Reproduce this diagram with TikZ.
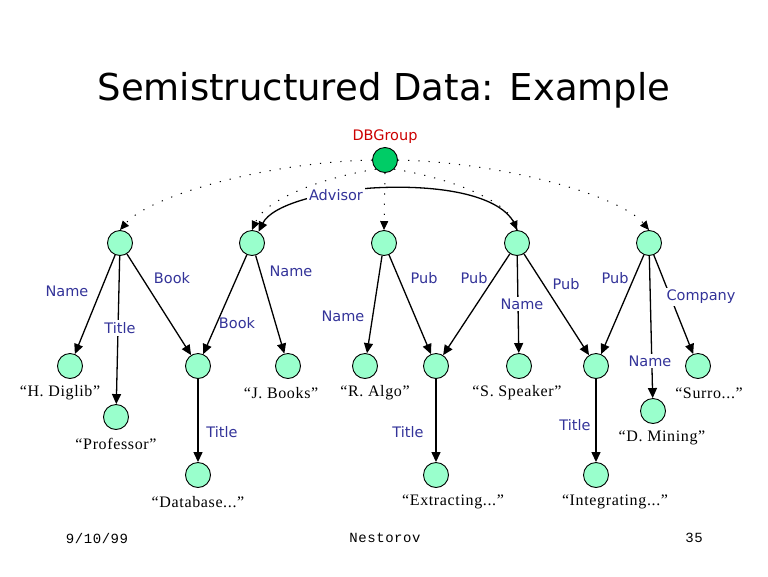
\documentclass[tikz,border=0pt]{standalone}
\usepackage{fontspec}
\usetikzlibrary{arrows.meta}
\newfontfamily\labfont{DejaVu Sans}
\newfontfamily\serfont[LetterSpace=4]{Liberation Serif}
\newfontfamily\monofont[LetterSpace=4]{Liberation Mono}
\definecolor{leafgreen}{RGB}{153,255,204}
\definecolor{rootgreen}{RGB}{0,204,102}
\definecolor{labblue}{RGB}{51,51,153}
\definecolor{dbred}{RGB}{204,0,0}
\tikzset{
  obj/.style={circle,draw=black,line width=0.9pt,fill=leafgreen,minimum size=25pt,inner sep=0pt},
  rootobj/.style={obj,fill=rootgreen},
  arr/.style={line width=1.3pt,-{Triangle[length=10pt,width=9pt]}},
  dotarr/.style={line width=1pt,dash pattern=on 1.2pt off 9pt,-{Triangle[length=9pt,width=8pt]}},
  lab/.style={font=\labfont\fontsize{14.5}{16}\selectfont,text=labblue,inner sep=1pt},
  wlab/.style={lab,fill=white,inner sep=2pt},
  val/.style={font=\serfont\fontsize{16}{18}\selectfont,inner sep=1pt},
  foot/.style={font=\monofont\fontsize{14}{16}\selectfont,inner sep=1pt}
}
\begin{document}
\begin{tikzpicture}[x=1pt,y=-1pt]
\useasboundingbox[fill=white] (0,0) rectangle (768,576);
\node[font=\labfont\fontsize{37}{40}\selectfont] (title) at (384,90) {Semistructured Data: Example};
% nodes
\node[rootobj] (root) at (385,160) {};
\node[lab,text=dbred] (dbg) at (385,137) {DBGroup};
\node[obj] (A) at (120,243) {};
\node[obj] (B) at (252,243) {};
\node[obj] (C) at (384,243) {};
\node[obj] (D) at (517,243) {};
\node[obj] (E) at (649,243) {};
\node[obj] (a1) at (70,366) {};
\node[obj] (b1) at (198,366) {};
\node[obj] (c1) at (288,366) {};
\node[obj] (d1) at (365,366) {};
\node[obj] (e1) at (436,366) {};
\node[obj] (f1) at (519,366) {};
\node[obj] (g1) at (596,366) {};
\node[obj] (h1) at (698,366) {};
\node[obj] (prof) at (116,417) {};
\node[obj] (dbase) at (198,475) {};
\node[obj] (extr) at (436,475) {};
\node[obj] (integ) at (596,475) {};
\node[obj] (dmin) at (653,411) {};
% dotted edges from root
\draw[dotarr] (root.west) .. controls (270,162) and (150,195) .. (A.north);
\draw[dotarr] (root.south west) .. controls (320,178) and (265,200) .. (B.north);
\draw[dotarr] (root.south) -- (C.north);
\draw[dotarr] (root.south east) .. controls (450,178) and (505,200) .. (D.north);
\draw[dotarr] (root.east) .. controls (500,162) and (620,195) .. (E.north);
% advisor
\draw[arr] (D.north) .. controls (508,195) and (440,184) .. (372,188) .. controls (320,192) and (272,205) .. (B.60);
\node[wlab] (adv) at (336,195) {Advisor};
% edges
\draw[arr] (A) -- (a1);
\draw[arr] (A) -- (prof);
\draw[arr] (A) -- (b1);
\draw[arr] (B) -- (b1);
\draw[arr] (B) -- (c1);
\draw[arr] (C) -- (d1);
\draw[arr] (C) -- (e1);
\draw[arr] (D) -- (e1);
\draw[arr] (D) -- (f1);
\draw[arr] (D) -- (g1);
\draw[arr] (E) -- (g1);
\draw[arr] (E) -- (dmin);
\draw[arr] (E) -- (h1);
\draw[arr] (b1) -- (dbase);
\draw[arr] (e1) -- (extr);
\draw[arr] (g1) -- (integ);
% edge labels
\node[lab] (l1) at (67,291) {Name};
\node[wlab] (l2) at (120,328) {Title};
\node[lab] (l3) at (172,278) {Book};
\node[lab] (l4) at (237,323) {Book};
\node[lab] (l5) at (291,271) {Name};
\node[lab] (l6) at (343,316) {Name};
\node[lab] (l7) at (424,278) {Pub};
\node[lab] (l8) at (474,278) {Pub};
\node[wlab] (l9) at (522,304) {Name};
\node[lab] (l10) at (566,284) {Pub};
\node[lab] (l11) at (615,278) {Pub};
\node[wlab] (l12) at (701,297) {Company};
\node[wlab] (l13) at (650,361) {Name};
\node[lab] (l14) at (222,432) {Title};
\node[lab] (l15) at (408,432) {Title};
\node[lab] (l16) at (575,425) {Title};
% values
\node[val] (v1) at (60,393) {“H. Diglib”};
\node[val] (v2) at (281,393) {“J. Books”};
\node[val] (v3) at (375,393) {“R. Algo”};
\node[val] (v4) at (517,393) {“S. Speaker”};
\node[val] (v5) at (709,393) {“Surro...”};
\node[val] (v6) at (116,444) {“Professor”};
\node[val] (v7) at (662,438) {“D. Mining”};
\node[val] (v8) at (198,502) {“Database...”};
\node[val] (v9) at (453,502) {“Extracting...”};
\node[val] (v10) at (615,502) {“Integrating...”};
% footer
\node[foot] (f1t) at (97,538) {9/10/99};
\node[foot] (f2t) at (385,538) {Nestorov};
\node[foot] (f3t) at (694,538) {35};
\end{tikzpicture}
\end{document}
